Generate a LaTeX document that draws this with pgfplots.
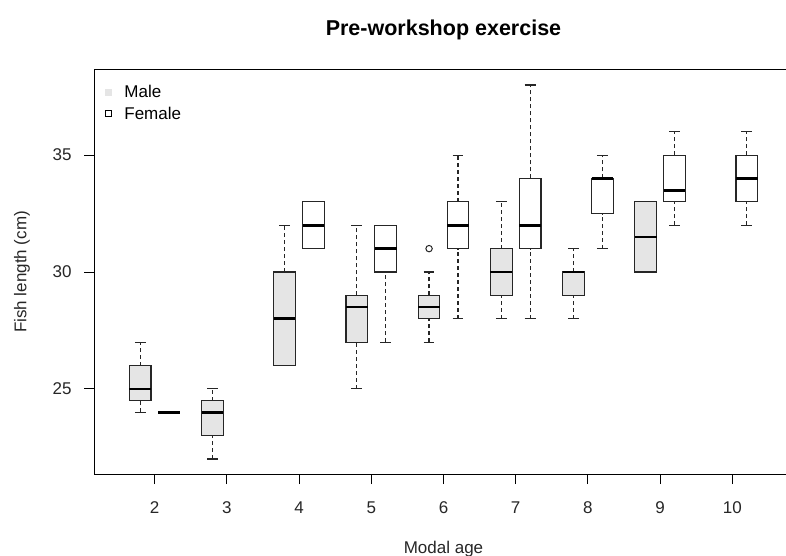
\documentclass[border=0pt]{standalone}
\usepackage{pgfplots}
\pgfplotsset{compat=1.18}
\usepackage{fontspec}
\setmainfont{Liberation Sans}

\definecolor{malefill}{HTML}{E5E5E5}
\definecolor{boxedge}{HTML}{262626}

\pgfplotsset{
  whisker/.style={forget plot, mark=none, draw=boxedge, line width=1.15pt, dash pattern=on 4pt off 3pt},
  staple/.style={forget plot, mark=none, draw=boxedge, line width=1.15pt},
  boxline/.style={forget plot, mark=none, draw=boxedge, line width=1.15pt},
  medline/.style={forget plot, mark=none, draw=black, line width=2.8pt},
}

% one box-and-whisker: position, lower whisker, lower quartile, median,
% upper quartile, upper whisker, fill colour
\newcommand{\rbox}[7]{%
  \pgfmathsetmacro{\boxleft}{#1-0.15}%
  \pgfmathsetmacro{\boxright}{#1+0.15}%
  \pgfmathsetmacro{\capleft}{#1-0.075}%
  \pgfmathsetmacro{\capright}{#1+0.075}%
  \addplot[whisker] coordinates {(#1,#2) (#1,#3)};
  \addplot[whisker] coordinates {(#1,#5) (#1,#6)};
  \addplot[staple] coordinates {(\capleft,#2) (\capright,#2)};
  \addplot[staple] coordinates {(\capleft,#6) (\capright,#6)};
  \addplot[boxline, fill=#7] coordinates {(#1,#3) (\boxright,#3) (\boxright,#5) (\boxleft,#5) (\boxleft,#3) (#1,#3)};
  \addplot[medline] coordinates {(\boxleft,#4) (\boxright,#4)};
}

\begin{document}
\begin{tikzpicture}
\begin{axis}[
  at={(94pt,-70pt)}, anchor=north west,
  scale only axis, width=699pt, height=404pt,
  xmin=1.16, xmax=10.84, ymin=21.36, ymax=38.64,
  xtick={2,...,10}, ytick={25,30,35},
  xtick pos=bottom, ytick pos=left,
  tick align=outside, major tick length=10pt,
  every tick/.style={black, line width=1pt},
  axis line style={line width=1pt},
  /pgf/number format/assume math mode=true,
  tick label style={font=\fontsize{17}{20}\selectfont, color=black!85},
  xticklabel style={yshift=-14pt},
  yticklabel style={xshift=-9pt},
  title={\bfseries Pre-workshop exercise},
  title style={font=\fontsize{21.5}{24}\selectfont, at={(axis description cs:0.5,1)}, anchor=center, yshift=34pt},
  xlabel={Modal age},
  ylabel={Fish length (cm)},
  every axis x label/.style={at={(axis description cs:0.5,0)}, anchor=center, yshift=-75pt, font=\fontsize{17}{20}\selectfont, color=black!85},
  every axis y label/.style={at={(axis description cs:0,0.5)}, xshift=-72pt, rotate=90, anchor=center, font=\fontsize{17}{20}\selectfont, color=black!85},
  legend cell align=left,
  legend style={draw=none, fill=none, at={(axis description cs:0.016,0.967)}, anchor=north west,
    font=\fontsize{17}{20}\selectfont, inner sep=0pt, row sep=3.5pt},
]
% legend keys (an invisible path keeps room between key and text)
\addlegendimage{legend image code/.code={\fill[malefill, draw=none] (0pt,-3.5pt) rectangle (7pt,3.5pt); \path[draw=none, fill=none] (7pt,0pt) -- (17pt,0pt);}}
\addlegendentry{Male}
\addlegendimage{legend image code/.code={\draw[black, line width=0.9pt, fill=white] (0.5pt,-3pt) rectangle (6.5pt,3pt); \path[draw=none, fill=none] (7pt,0pt) -- (17pt,0pt);}}
\addlegendentry{Female}

% males, left of each age
\rbox{1.8}{24}{24.5}{25}{26}{27}{malefill}
\rbox{2.8}{22}{23}{24}{24.5}{25}{malefill}
\rbox{3.8}{26}{26}{28}{30}{32}{malefill}
\rbox{4.8}{25}{27}{28.5}{29}{32}{malefill}
\rbox{5.8}{27}{28}{28.5}{29}{30}{malefill}
\rbox{6.8}{28}{29}{30}{31}{33}{malefill}
\rbox{7.8}{28}{29}{30}{30}{31}{malefill}
\rbox{8.8}{30}{30}{31.5}{33}{33}{malefill}
% outlier, age 6 males
\addplot[forget plot, only marks, mark=o, mark size=3.2pt, mark options={draw=boxedge, line width=1pt}] coordinates {(5.8,31)};

% females, right of each age
\rbox{2.2}{24}{24}{24}{24}{24}{white}
\rbox{4.2}{31}{31}{32}{33}{33}{white}
\rbox{5.2}{27}{30}{31}{32}{32}{white}
\rbox{6.2}{28}{31}{32}{33}{35}{white}
\rbox{7.2}{28}{31}{32}{34}{38}{white}
\rbox{8.2}{31}{32.5}{34}{34}{35}{white}
\rbox{9.2}{32}{33}{33.5}{35}{36}{white}
\rbox{10.2}{32}{33}{34}{35}{36}{white}
\end{axis}
\pgfresetboundingbox
\path[use as bounding box] (0pt,0pt) rectangle (786pt,-556pt);
\end{tikzpicture}
\end{document}
